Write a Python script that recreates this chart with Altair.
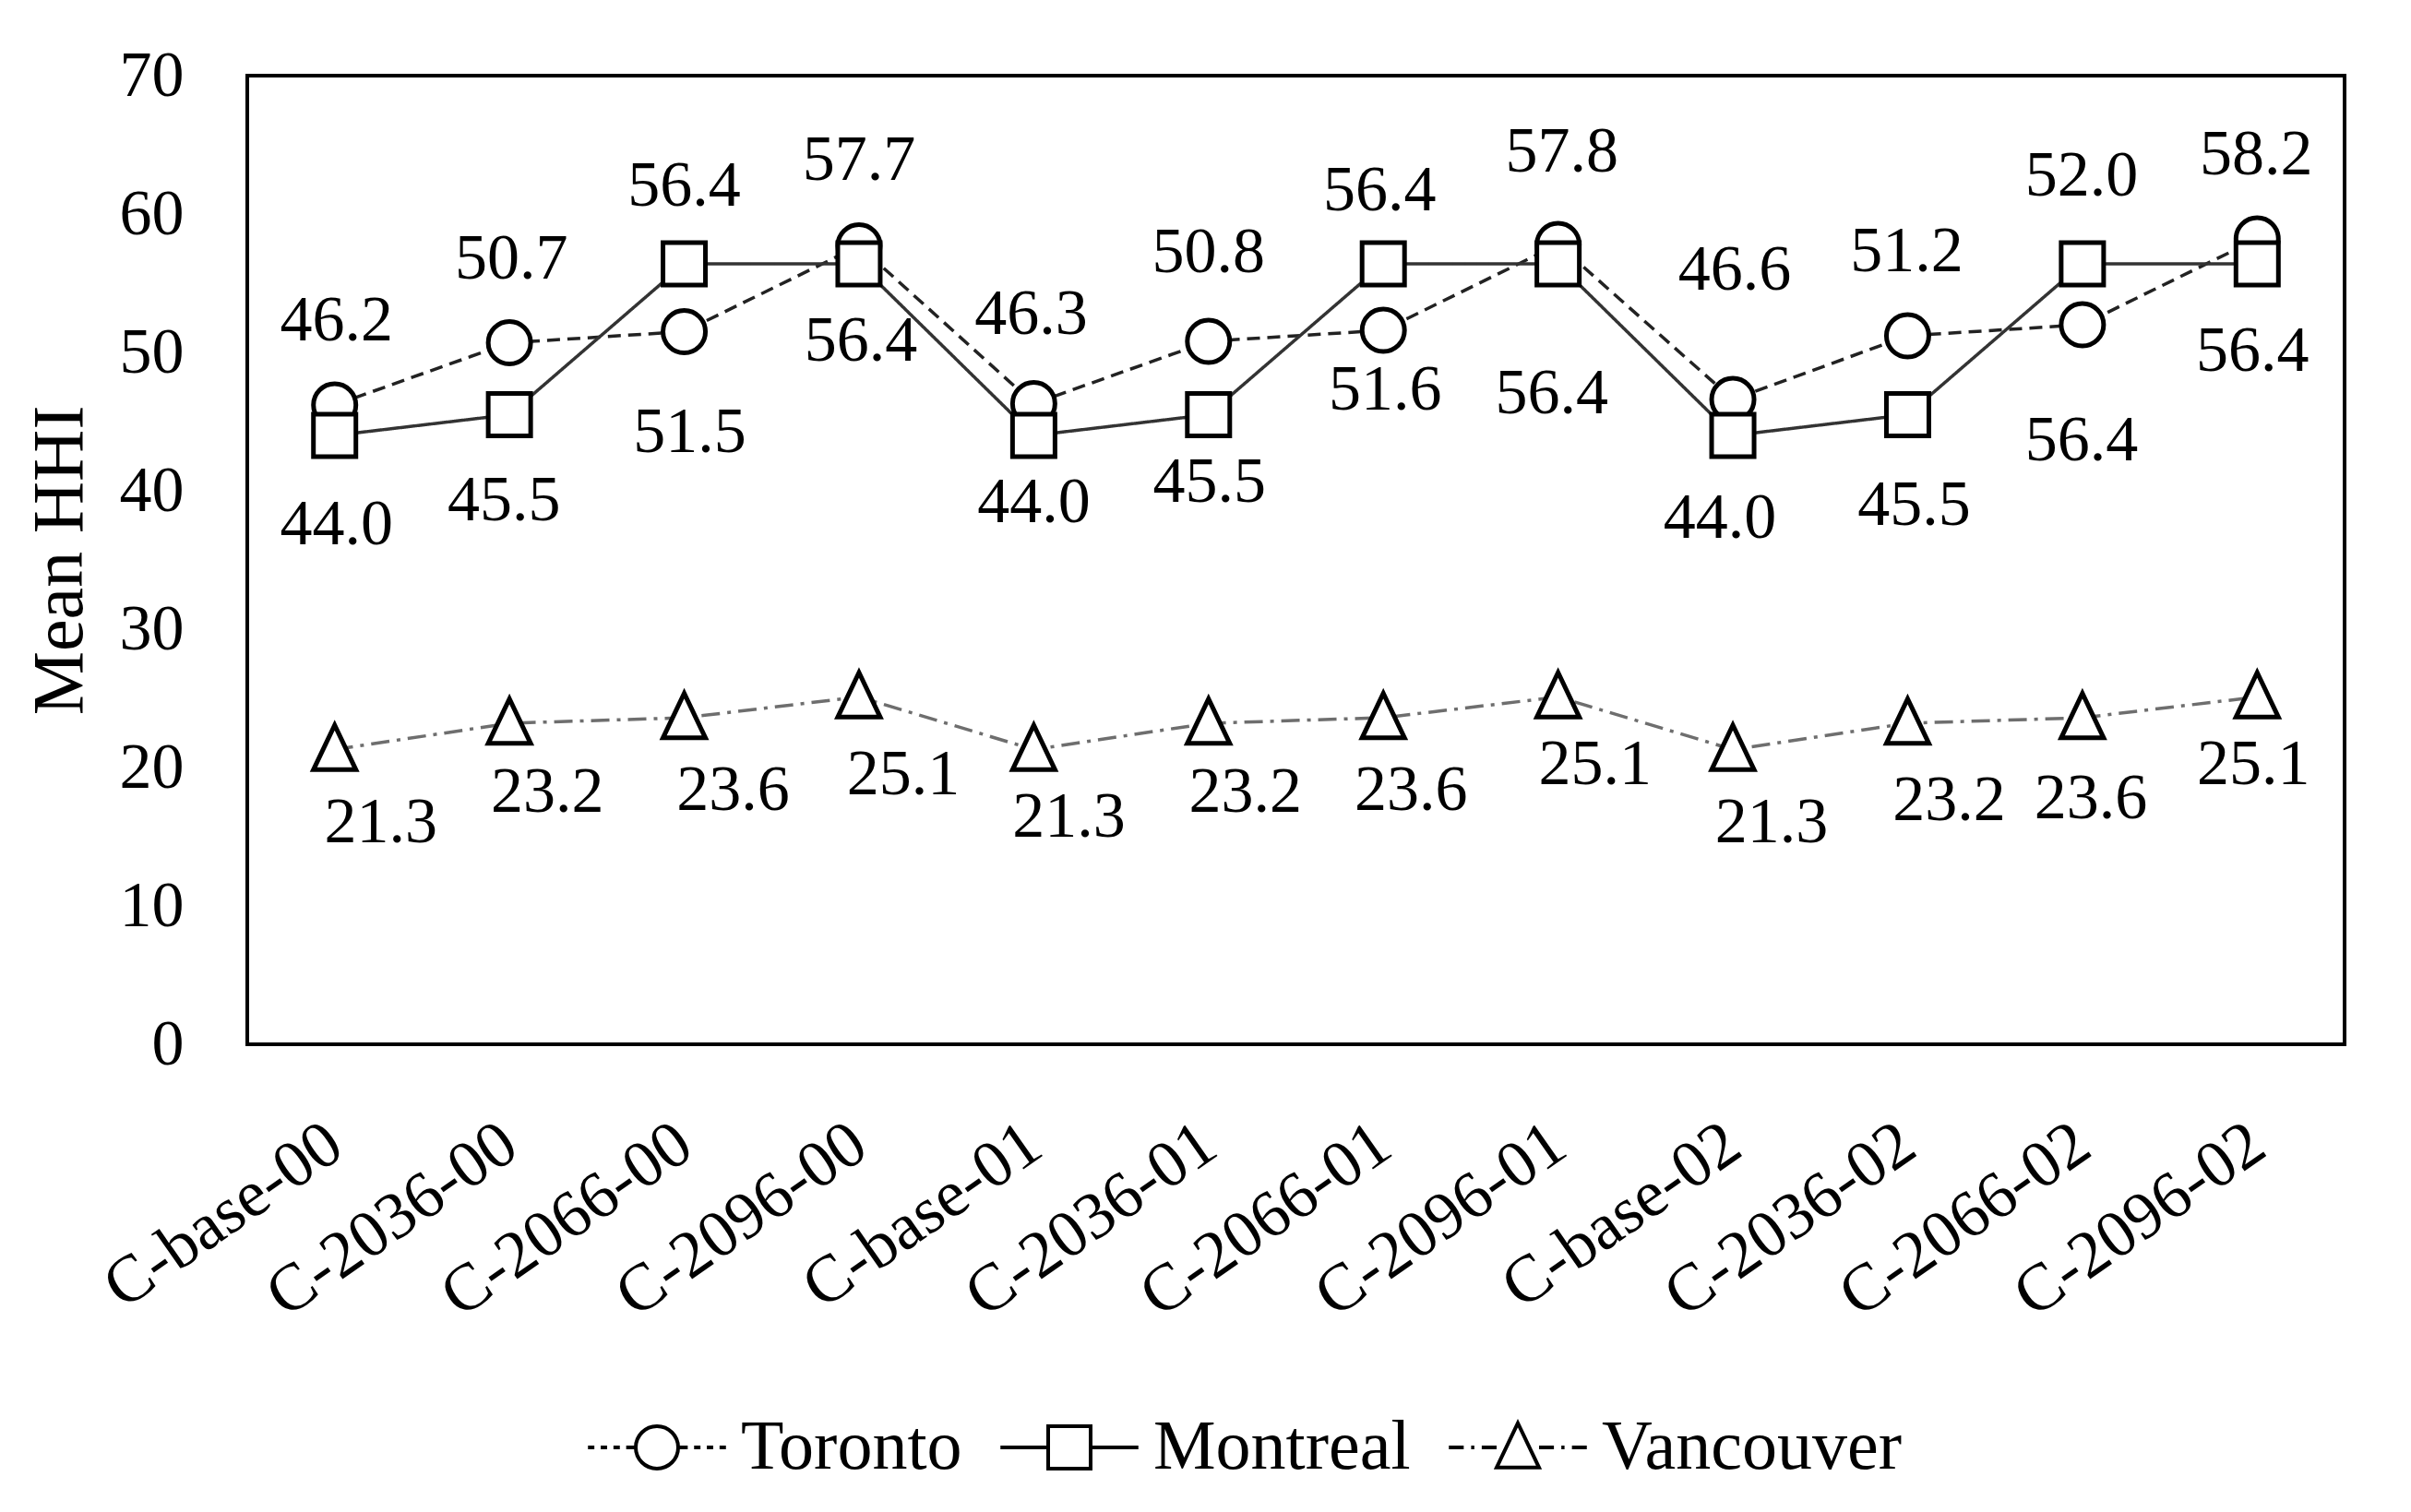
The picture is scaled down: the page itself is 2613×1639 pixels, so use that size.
import altair as alt
import pandas as pd

# ---- data ----
categories = ["C-base-00", "C-2036-00", "C-2066-00", "C-2096-00",
              "C-base-01", "C-2036-01", "C-2066-01", "C-2096-01",
              "C-base-02", "C-2036-02", "C-2066-02", "C-2096-02"]
series_names = ["Toronto", "Montreal", "Vancouver"]
toronto = [46.2, 50.7, 51.5, 57.7, 46.3, 50.8, 51.6, 57.8, 46.6, 51.2, 52.0, 58.2]
montreal = [44.0, 45.5, 56.4, 56.4, 44.0, 45.5, 56.4, 56.4, 44.0, 45.5, 56.4, 56.4]
vancouver = [21.3, 23.2, 23.6, 25.1, 21.3, 23.2, 23.6, 25.1, 21.3, 23.2, 23.6, 25.1]
y_ticks = [0, 10, 20, 30, 40, 50, 60, 70]

# ---- label placement (style: pixel offsets of each data label from its point) ----
toronto_dx = [2, 2, 6, 0, -3, 0, 2, 4, 2, -1, -1, -1]
toronto_dy = [-91, -91, 109, -93, -97, -96, 65, -100, -140, -91, -161, -91]
montreal_dx = [2, -6, 0, 2, 0, 1, -4, -7, -14, 7, -1, -5]
montreal_dy = [97, 93, -84, 84, 73, 73, -79, 141, 90, 98, 192, 95]
vancouver_dx = [50, 41, 53, 48, 38, 40, 30, 40, 42, 45, 9, -4]
vancouver_dy = [79, 75, 79, 84, 73, 75, 79, 73, 79, 84, 88, 73]

rows = []
for name, vals, dxs, dys in [("Toronto", toronto, toronto_dx, toronto_dy),
                             ("Montreal", montreal, montreal_dx, montreal_dy),
                             ("Vancouver", vancouver, vancouver_dx, vancouver_dy)]:
    for c, v, dx, dy in zip(categories, vals, dxs, dys):
        rows.append({"scenario": c, "series": name, "value": v,
                     "label": f"{v:.1f}", "dx": dx, "dy": dy})
df = pd.DataFrame(rows)

FONT = "Liberation Serif"

# marker shapes (unit paths, scaled by sqrt(size)/2)
circle_p = "M -1 0 A 1 1 0 1 0 1 0 A 1 1 0 1 0 -1 0 Z"
square_p = "M -1 -1 L 1 -1 L 1 1 L -1 1 Z"
tri_p = "M 0 -1.15 L -1 0.95 L 1 0.95 Z"

# legend symbols: line + marker
leg_toronto = ("M -3.25 0 L -2.95 0 M -2.65 0 L -2.35 0 M -2.05 0 L -1.75 0 M -1.45 0 L -1.05 0 "
               "M 1.05 0 L 1.45 0 M 1.75 0 L 2.05 0 M 2.35 0 L 2.65 0 M 2.95 0 L 3.25 0 "
               + circle_p)
leg_montreal = "M -3.25 0 L -1 0 M 1 0 L 3.25 0 " + square_p
leg_vancouver = ("M -3.25 0 L -2.55 0 M -2.2 0 L -2.05 0 M -1.7 0 L -1.0 0 "
                 "M 1.0 0 L 1.7 0 M 2.05 0 L 2.2 0 M 2.55 0 L 3.25 0 " + tri_p)

x_enc = alt.X("scenario:N", sort=categories,
              scale=alt.Scale(type="point", padding=0.5),
              axis=alt.Axis(title=None, labelAngle=-35, labelAlign="right",
                            labelBaseline="middle", labelPadding=100,
                            labelFont=FONT, labelFontSize=72, labelColor="black",
                            labelLimit=2000,
                            ticks=False, tickSize=0, domain=False, grid=False,
                            labelOverlap=False))
y_enc = alt.Y("value:Q", scale=alt.Scale(domain=[0, 70], nice=False, zero=True),
              axis=alt.Axis(values=y_ticks, title="Mean HHI", titleFont=FONT,
                            titleFontSize=78, titleFontWeight="normal",
                            titleColor="black", titleX=-180, titleY=525,
                            titleAngle=-90, titleAlign="center",
                            titleBaseline="alphabetic",
                            labelFont=FONT, labelFontSize=70, labelColor="black",
                            labelPadding=69, ticks=False, tickSize=0,
                            domain=False, grid=False))

base = alt.Chart(df)

lines = base.mark_line(strokeWidth=3.5).encode(
    x=x_enc, y=y_enc,
    color=alt.Color("series:N", scale=alt.Scale(domain=series_names,
                    range=["#222222", "#333333", "#6e6e6e"]), legend=None),
    strokeDash=alt.StrokeDash("series:N", scale=alt.Scale(domain=series_names,
                              range=[[14, 8], [1, 0], [20, 8, 4, 8]]), legend=None),
)

points = base.mark_point(filled=True, fill="white", stroke="black",
                         strokeWidth=5, size=2116, opacity=1).encode(
    x=x_enc, y=y_enc,
    shape=alt.Shape("series:N", scale=alt.Scale(domain=series_names,
                    range=[circle_p, square_p, tri_p]), legend=None),
)

legend_layer = base.mark_point(opacity=0, color="black", strokeWidth=4,
                               size=2116).encode(
    x=x_enc, y=y_enc,
    shape=alt.Shape("series:N", scale=alt.Scale(domain=series_names,
                    range=[leg_toronto, leg_montreal, leg_vancouver]),
                    legend=alt.Legend(title=None, orient="none", direction="horizontal",
                                      legendX=406, legendY=1449,
                                      symbolSize=2116, symbolStrokeWidth=4,
                                      symbolStrokeColor="black",
                                      symbolFillColor="white", symbolOpacity=1,
                                      labelFont=FONT, labelFontSize=76,
                                      labelColor="black", labelOffset=53,
                                      columnPadding=33, padding=0,
                                      labelLimit=1000)),
)

labels = base.mark_text(font=FONT, fontSize=70, color="black",
                        align="center", baseline="middle",
                        dx=alt.ExprRef(expr="datum.dx"),
                        dy=alt.ExprRef(expr="datum.dy")).encode(
    x=x_enc, y=y_enc, text="label:N",
)

chart = alt.layer(lines, points, legend_layer, labels).resolve_scale(
    shape="independent"
).properties(
    width=2273, height=1050,
    autosize=alt.AutoSizeParams(type="none"),
    padding={"left": 260, "top": 74, "right": 60, "bottom": 495},
).configure(
    font=FONT, background="white"
).configure_view(
    stroke="black", strokeWidth=4
)

chart.save("out.html", embed_options={"renderer": "svg", "actions": False})
